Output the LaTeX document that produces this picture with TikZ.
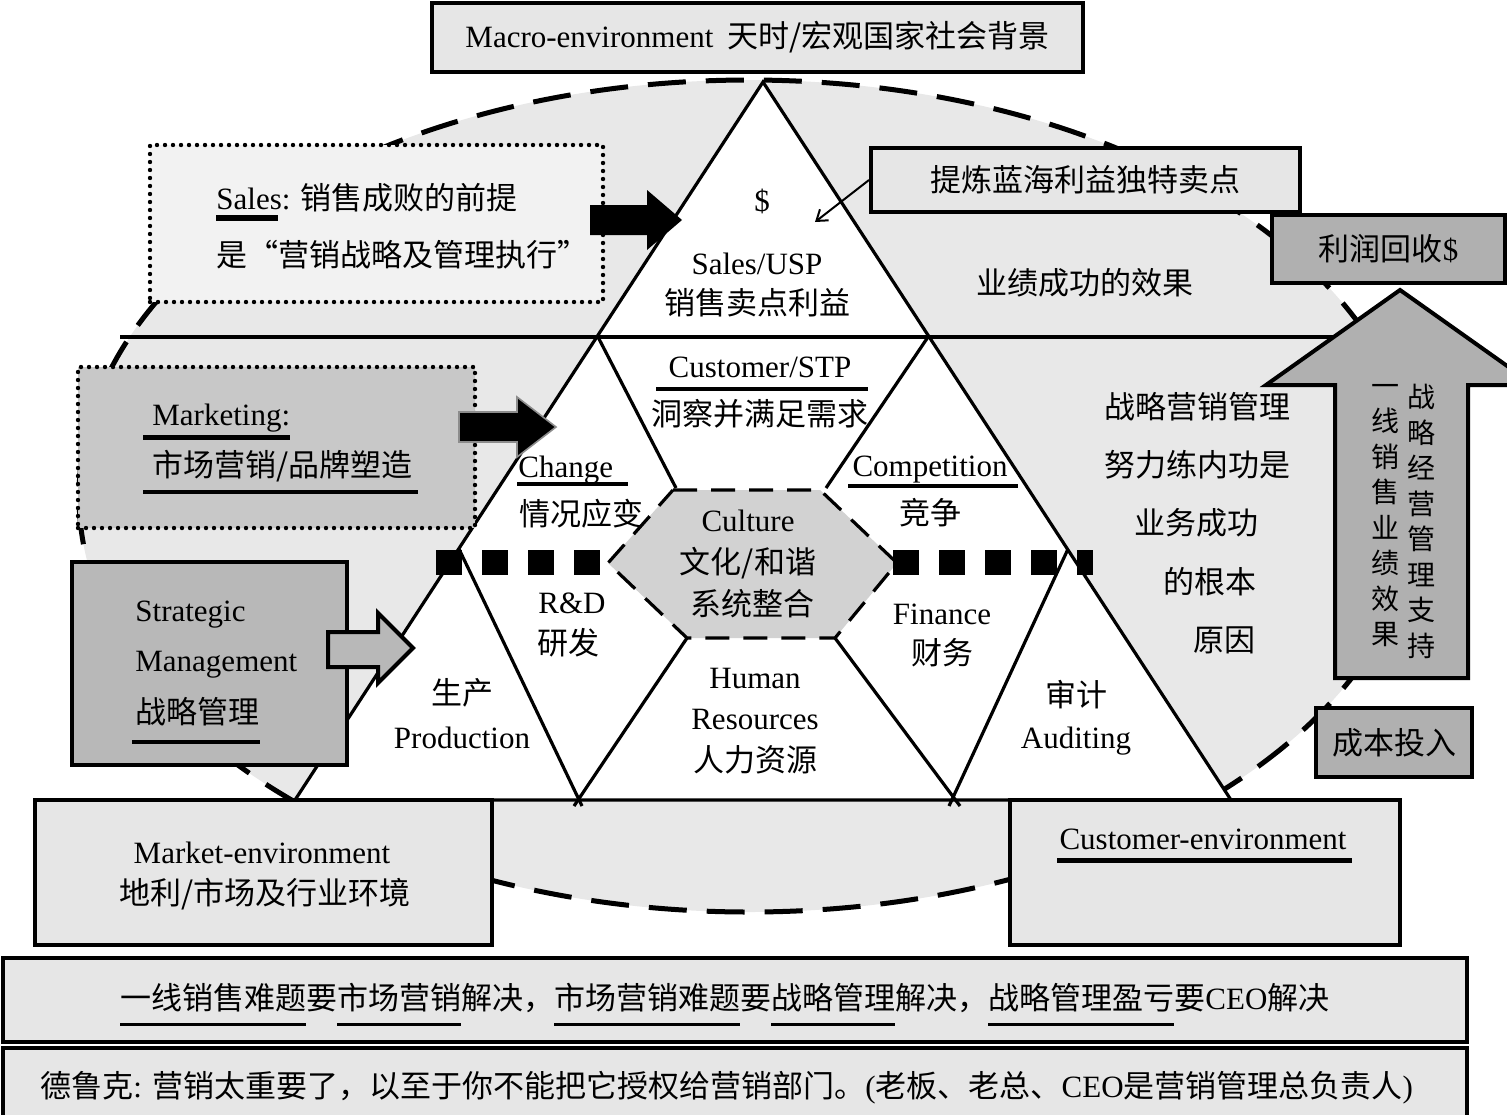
\documentclass[tikz,border=0pt]{standalone}
\usepackage{fontspec}
\setmainfont{Liberation Serif}
\newfontfamily\cjkf{Noto Sans CJK SC}
\newcommand\zhc[1]{{\cjkf #1}}
\newcommand\myfs{\fontsize{15.5}{18}\selectfont}
\newcommand\ulz[1]{\vtop{\hbox{#1}\kern5.5pt\hrule height 1.5pt}}
\usetikzlibrary{arrows.meta}
\definecolor{ellc}{HTML}{E8E8E8}
\definecolor{boxc}{HTML}{E6E6E6}
\definecolor{salc}{HTML}{F2F2F2}
\definecolor{mktc}{HTML}{C8C8C8}
\definecolor{strc}{HTML}{B8B8B8}
\definecolor{dkc}{HTML}{B0B0B0}
\definecolor{hexc}{HTML}{D2D2D2}
\begin{document}
\begin{tikzpicture}[x=0.5pt,y=-0.5pt,
  every node/.style={font=\myfs, inner sep=0pt},
  bx/.style={draw=black, line width=2pt, rectangle},
  dotbx/.style={draw=black, line width=2.2pt, dash pattern=on 0pt off 4pt, line cap=round, rectangle},
  tri/.style={draw=black, line width=1.6pt},
  txt/.style={anchor=base},
  txw/.style={anchor=base west},
  col/.style={anchor=north, align=center, font=\fontsize{14}{17.75}\selectfont\cjkf},
]
\useasboundingbox (0,0) rectangle (1507,1114);
\begin{scope}
\clip (0,0) rectangle (1507,1114);

% background ellipse
\path[fill=ellc] (749,496) ellipse [x radius=335pt, y radius=208pt];
\draw[line width=2.5pt, dash pattern=on 19pt off 10pt] (749,496) ellipse [x radius=335pt, y radius=208pt];

% big triangle
\coordinate (A) at (763,82);
\coordinate (BL) at (295,800);
\coordinate (BR) at (1231,800);
\fill[white] (A) -- (BL) -- (BR) -- cycle;

% hexagon
\coordinate (h1) at (673,490);
\coordinate (h2) at (820,490);
\coordinate (h3) at (897,563);
\coordinate (h4) at (835,638);
\coordinate (h5) at (687,638);
\coordinate (h6) at (608,563);
\fill[hexc] (h1) -- (h2) -- (h3) -- (h4) -- (h5) -- (h6) -- cycle;
\draw[line width=1.6pt, dash pattern=on 12pt off 7pt] (h1) -- (h2) -- (h3) -- (h4) -- (h5) -- (h6) -- cycle;

% inner lines
\draw[tri] (598,337) -- (676,488);
\draw[tri] (928,337) -- (826,488);
\draw[tri] (h5) -- (574,806);
\draw[tri] (459,549) -- (582,806);
\draw[tri] (h4) -- (960,806);
\draw[tri] (1068,549) -- (949,806);
\draw[tri] (120,337) -- (1340,337);
\draw[tri, line join=miter] (A) -- (BL) -- (BR) -- cycle;

% thick dotted band
\draw[line width=12.5pt, dash pattern=on 12.75pt off 10.25pt] (436,562) -- (599.5,562);
\draw[line width=12.5pt, dash pattern=on 12.75pt off 10.25pt] (893,562) -- (1093,562);

% up arrow
\draw[line width=2pt, fill=dkc, line join=miter] (1335,678) -- (1335,385) -- (1266,385) -- (1400,290) -- (1534,385) -- (1468,385) -- (1468,678) -- cycle;
\node[col] (colA) at (1385,384) {一\\线\\销\\售\\业\\绩\\效\\果};
\node[col] (colB) at (1421,384) {战\\略\\经\\营\\管\\理\\支\\持};

% macro box
\node[bx, fill=boxc, minimum width=325.5pt, minimum height=34.5pt] (macro) at (757.5,37.5) {Macro-environment\hspace{7pt}\zhc{天时/宏观国家社会背景}};

% sales box
\node[dotbx, fill=salc, minimum width=226.5pt, minimum height=78.5pt] (salesbox) at (376.5,223.5) {};
\node[txw] (sales1) at (216,209) {Sales: \zhc{销售成败的前提}};
\node[txw] (sales2) at (216,266) {\zhc{是“营销战略及管理执行”}};
\draw[line width=3pt] (216,218) -- (278,218);
\fill[black] (590,205) -- (647,205) -- (647,190) -- (682,220) -- (647,250) -- (647,235) -- (590,235) -- cycle;

% top triangle texts
\node[txt] (dollar) at (762,211) {\$};
\node[txt] (uspa) at (757,274) {Sales/USP};
\node[txt] (uspb) at (757,314) {\zhc{销售卖点利益}};

% refine box
\node[bx, fill=boxc, minimum width=214.5pt, minimum height=32pt] (refine) at (1085.5,180) {\zhc{提炼蓝海利益独特卖点}};
\coordinate (usptip) at (815,222);
\draw[line width=1pt, -{Straight Barb[length=5pt,width=7pt]}] (refine.west) -- (usptip);

% profit box
\node[bx, fill=dkc, minimum width=116.5pt, minimum height=34pt] (profit) at (1388.5,249) {\zhc{利润回收}\$};
\node[txt] (effect) at (1085,294) {\zhc{业绩成功的效果}};

% customer/STP
\node[txt] (custa) at (760,377) {Customer/STP};
\draw[line width=2pt] (656,389) -- (868,389);
\node[txt] (custb) at (760,425) {\zhc{洞察并满足需求}};

% marketing box
\node[dotbx, fill=mktc, minimum width=198.5pt, minimum height=80.5pt] (mktbox) at (276.5,447.5) {};
\node[txw] (mkta) at (152,425) {Marketing:};
\draw[line width=2.5pt] (143,437) -- (290,437);
\node[txw] (mktb) at (152,476) {\zhc{市场营销/品牌塑造}};
\draw[line width=2pt] (143,492) -- (418,492);
\draw[fill=black, draw=black!45, line width=0.8pt] (459,412) -- (517,412) -- (517,397) -- (556,427) -- (517,457) -- (517,442) -- (459,442) -- cycle;

% change / competition
\node[txw] (chga) at (518,477) {Change};
\draw[line width=1.6pt] (517,484) -- (628,484);
\node[txw] (chgb) at (519,525) {\zhc{情况应变}};
\node[txt] (compa) at (930,476) {Competition};
\draw[line width=1.6pt] (848,486) -- (1018,486);
\node[txt] (compb) at (930,524) {\zhc{竞争}};

% right texts
\node[txt] (r1) at (1197,418) {\zhc{战略营销管理}};
\node[txt] (r2) at (1197,476) {\zhc{努力练内功是}};
\node[txt] (r3) at (1196,534) {\zhc{业务成功}};
\node[txt] (r4) at (1210,593) {\zhc{的根本}};
\node[txt] (r5) at (1224,651) {\zhc{原因}};

% culture
\node[txt] (cula) at (748,531) {Culture};
\node[txt] (culb) at (748,573) {\zhc{文化/和谐}};
\node[txt] (culc) at (752,615) {\zhc{系统整合}};

% lower cells
\node[txt] (rda) at (572,613) {R\&D};
\node[txt] (rdb) at (568,654) {\zhc{研发}};
\node[txt] (proa) at (462,704) {\zhc{生产}};
\node[txt] (prob) at (462,748) {Production};
\node[txt] (hra) at (755,688) {Human};
\node[txt] (hrb) at (755,729) {Resources};
\node[txt] (hrc) at (755,771) {\zhc{人力资源}};
\node[txt] (fina) at (942,624) {Finance};
\node[txt] (finb) at (942,664) {\zhc{财务}};
\node[txt] (auda) at (1076,706) {\zhc{审计}};
\node[txt] (audb) at (1076,748) {Auditing};

% strategic box
\node[bx, fill=strc, minimum width=137.5pt, minimum height=101.5pt] (strat) at (209.5,663.5) {};
\node[txw] (stra) at (135,621) {Strategic};
\node[txw] (strb) at (135,671) {Management};
\node[txw] (strc) at (135,723) {\zhc{战略管理}};
\draw[line width=2pt] (132,742) -- (260,742);
\draw[fill=strc, line width=2pt, line join=miter] (328,632) -- (378,632) -- (378,613) -- (413,648) -- (378,683) -- (378,667) -- (328,667) -- cycle;

% cost box
\node[bx, fill=dkc, minimum width=78pt, minimum height=34.5pt] (cost) at (1394,742.5) {\zhc{成本投入}};

% environment boxes
\node[bx, fill=boxc, minimum width=228.5pt, minimum height=72.5pt] (mktenv) at (263.5,872.5) {};
\node[txt] (mkea) at (262,863) {Market-environment};
\node[txt] (mkeb) at (265,904) {\zhc{地利/市场及行业环境}};
\node[bx, fill=boxc, minimum width=195pt, minimum height=72.5pt] (custenv) at (1205,872.5) {};
\node[txt] (cuea) at (1203,849) {Customer-environment};
\draw[line width=2.5pt] (1057,860) -- (1352,860);

% bottom boxes
\node[bx, fill=boxc, minimum width=732pt, minimum height=42pt] (bot1) at (735,1000) {};
\node[txw] (bot1t) at (120,1009) {\ulz{\zhc{一线销售难题}}\zhc{要}\ulz{\zhc{市场营销}}\zhc{解决，}\ulz{\zhc{市场营销难题}}\zhc{要}\ulz{\zhc{战略管理}}\zhc{解决，}\ulz{\zhc{战略管理盈亏}}\zhc{要}CEO\zhc{解决}};
\node[bx, fill=boxc, minimum width=732pt, minimum height=41pt] (bot2) at (735,1089) {};
\node[txw] (bot2t) at (40,1097) {\zhc{德鲁克}: \zhc{营销太重要了，以至于你不能把它授权给营销部门。}(\zhc{老板、老总、}CEO\zhc{是营销管理总负责人})};
\end{scope}
\end{tikzpicture}
\end{document}
